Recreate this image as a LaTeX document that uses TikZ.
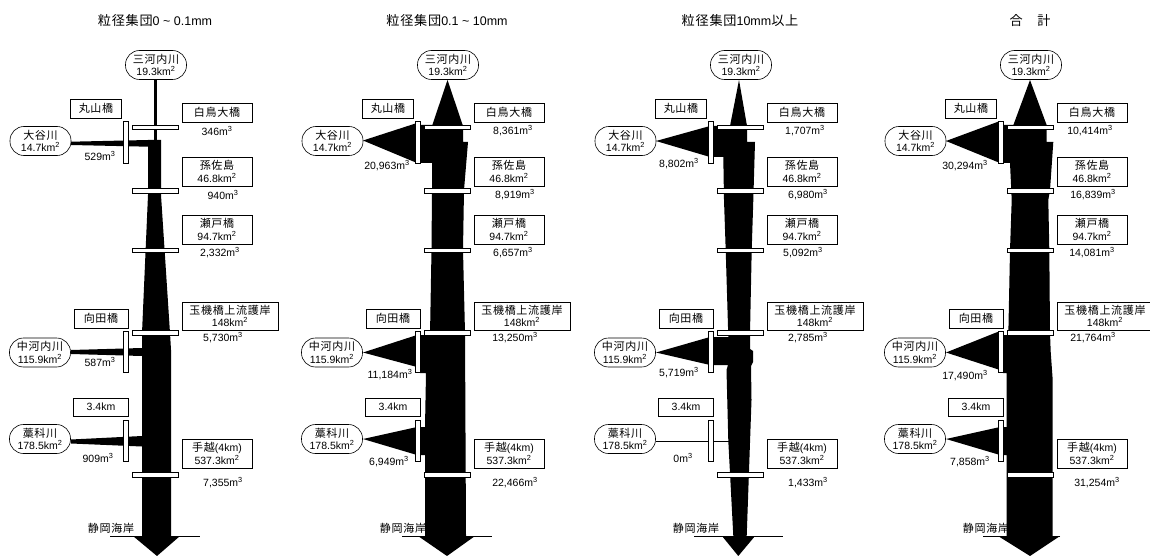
\documentclass[tikz,border=0pt]{standalone}
\usepackage{fontspec}
\setmainfont{Liberation Sans}
\newfontfamily\jp{Noto Sans CJK JP}[Scale=1.05, LetterSpace=6]
\newcommand\J[1]{{\jp #1}}
\newcommand\fs{\fontsize{10.5}{12.5}\selectfont}
\tikzset{
  riv/.style={draw, line width=0.6pt, rounded corners=14pt, minimum width=61pt, minimum height=29pt, inner sep=1pt, align=center, font=\fs},
  lbl/.style={draw, line width=0.6pt, minimum height=19pt, inner sep=1pt, align=center, font=\fs},
  num/.style={font=\fs, inner sep=0pt},
  ttl/.style={font=\fontsize{12.5}{14}\selectfont, inner sep=0pt},
  bridge/.style={draw, fill=white, line width=0.6pt, minimum width=46pt, minimum height=4.5pt, inner sep=0pt},
  vbar/.style={draw, fill=white, line width=0.6pt, minimum width=5pt, minimum height=41.5pt, inner sep=0pt},
  flow/.style={fill=black},
  coast/.style={draw, line width=0.7pt}
}
\newcommand\panelbars[1]{%
  \node[bridge] (bra#1) at (155,127.25) {};
  \node[bridge] (brb#1) at (155,191) {};
  \node[bridge] (brc#1) at (155,250.5) {};
  \node[bridge] (brd#1) at (155,333) {};
  \node[bridge] (bre#1) at (155,475) {};
  \node[vbar] (vba#1) at (125.5,142.5) {};
  \node[vbar] (vbb#1) at (125.5,352) {};
  \node[vbar] (vbc#1) at (125.5,441) {};
}
\newcommand\panellabels[1]{%
  \node[riv] (mik#1) at (156,65) {\J{三河内川}\\19.3km\textsuperscript{2}};
  \node[riv] (oya#1) at (40.5,141) {\J{大谷川}\\14.7km\textsuperscript{2}};
  \node[riv] (nak#1) at (40,352.5) {\J{中河内川}\\115.9km\textsuperscript{2}};
  \node[riv] (war#1) at (40,439) {\J{藁科川}\\178.5km\textsuperscript{2}};
  \node[lbl, minimum width=51pt] (mar#1) at (96,108.5) {\J{丸山橋}};
  \node[lbl, minimum width=54pt] (muk#1) at (101,318.5) {\J{向田橋}};
  \node[lbl, minimum width=55pt, minimum height=18pt] (km#1) at (101,407) {3.4km};
  \node[lbl, minimum width=70pt] (shi#1) at (217,112.5) {\J{白鳥大橋}};
  \node[lbl, minimum width=70pt, minimum height=29pt] (mag#1) at (217,171.5) {\J{孫佐島}\\46.8km\textsuperscript{2}};
  \node[lbl, minimum width=70pt, minimum height=29pt] (set#1) at (217,229.5) {\J{瀬戸橋}\\94.7km\textsuperscript{2}};
  \node[lbl, minimum width=96pt, minimum height=28pt] (tam#1) at (230,316) {\J{玉機橋上流護岸}\\148km\textsuperscript{2}};
  \node[lbl, minimum width=70pt, minimum height=29pt] (teg#1) at (217,453.5) {\J{手越}(4km)\\537.3km\textsuperscript{2}};
  \node[num] (shz#1) at (111,528) {\J{静岡海岸}};
}
\begin{document}
\begin{tikzpicture}[x=1pt,y=-1pt]
\useasboundingbox (0,0) rectangle (1150,556);
\fill[white] (0,0) rectangle (1150,556);

% ---------------- Panel 1 ----------------
\begin{scope}
  \node[ttl] (ttla) at (155,21) {\J{粒径集団}0 \textasciitilde{} 0.1mm};
  \draw[coast] (110,536) -- (200,536);
  \fill[flow] (154.3,79) rectangle (156.8,142);
  \fill[flow] (71,141.7) -- (148,140) -- (148,146.7) -- (71,145) -- cycle;
  \fill[flow] (148,140) -- (161,140) -- (161,195) -- (170,333) -- (171,350) -- (171,536)
              -- (142,536) -- (142,333) -- (148,195) -- cycle;
  \fill[flow] (71,350) -- (142,348) -- (142,356) -- (71,354) -- cycle;
  \fill[flow] (71,439.5) -- (142,436) -- (142,446.5) -- (71,443.5) -- cycle;
  \fill[flow] (133,536) -- (180,536) -- (157,556) -- cycle;
  \panelbars{1}
  \panellabels{1}
  \node[num] (na1) at (217,131) {346m\textsuperscript{3}};
  \node[num] (nb1) at (223,195) {940m\textsuperscript{3}};
  \node[num] (nc1) at (220,253) {2,332m\textsuperscript{3}};
  \node[num] (nd1) at (223,338) {5,730m\textsuperscript{3}};
  \node[num] (ne1) at (223,483) {7,355m\textsuperscript{3}};
  \node[num] (la1) at (100,156) {529m\textsuperscript{3}};
  \node[num] (lb1) at (100,362) {587m\textsuperscript{3}};
  \node[num] (lc1) at (98,458) {909m\textsuperscript{3}};
\end{scope}

% ---------------- Panel 2 ----------------
\begin{scope}[xshift=292pt]
  \node[ttl] (ttlb) at (155,21) {\J{粒径集団}0.1 \textasciitilde{} 10mm};
  \draw[coast] (110,536) -- (200,536);
  \fill[flow] (155.5,80) -- (171,126) -- (140,126) -- cycle;
  \fill[flow] (71,140.5) -- (125,123) -- (125,163) -- cycle;
  \fill[flow] (128,125) -- (171,125) -- (171,142) -- (176,142) -- (172,190) -- (171,250)
              -- (173,333) -- (174,536) -- (133,536) -- (133,455) -- (128,455) -- (128,427)
              -- (133,427) -- (134,373) -- (128,373) -- (128,335) -- (138,335) -- (139.5,250)
              -- (140,190) -- (140,163) -- (128,163) -- cycle;
  \fill[flow] (71,352.5) -- (125,335) -- (125,367) -- cycle;
  \fill[flow] (71,439) -- (125,427) -- (125,455) -- cycle;
  \fill[flow] (126,536) -- (183,536) -- (155,556) -- cycle;
  \panelbars{2}
  \panellabels{2}
  \node[num] (na2) at (221,131) {8,361m\textsuperscript{3}};
  \node[num] (nb2) at (223,195) {8,919m\textsuperscript{3}};
  \node[num] (nc2) at (221,253) {6,657m\textsuperscript{3}};
  \node[num] (nd2) at (223,338) {13,250m\textsuperscript{3}};
  \node[num] (ne2) at (223,483) {22,466m\textsuperscript{3}};
  \node[num] (la2) at (95,166) {20,963m\textsuperscript{3}};
  \node[num] (lb2) at (98,375) {11,184m\textsuperscript{3}};
  \node[num] (lc2) at (97,462) {6,949m\textsuperscript{3}};
\end{scope}

% ---------------- Panel 3 ----------------
\begin{scope}[xshift=585pt]
  \node[ttl] (ttlc) at (155,21) {\J{粒径集団}10mm\J{以上}};
  \draw[coast] (109,536) -- (198,536);
  \fill[flow] (154,80) -- (162,126) -- (145,126) -- cycle;
  \fill[flow] (71,141) -- (125,126) -- (125,157) -- cycle;
  \fill[flow] (127,126) -- (162,126) -- (162,142) -- (170,142) -- (168.3,200) -- (166.7,250)
              -- (165,333) -- (165,349) -- (168,351) -- (168,362) -- (166,366) -- (166.5,400)
              -- (161.7,536) -- (148.3,536) -- (143.3,441) -- (141.5,370) -- (143,365)
              -- (127,365) -- (127,337) -- (143.3,337) -- (140.7,250) -- (139,200)
              -- (138.3,157) -- (127,157) -- cycle;
  \fill[flow] (71,352.5) -- (125,337) -- (125,365) -- cycle;
  \draw[line width=0.8pt] (71,441) -- (143.5,441);
  \fill[flow] (137,536) -- (170,536) -- (153.3,556) -- cycle;
  \panelbars{3}
  \panellabels{3}
  \node[num] (na3) at (220,131) {1,707m\textsuperscript{3}};
  \node[num] (nb3) at (223,195) {6,980m\textsuperscript{3}};
  \node[num] (nc3) at (218,253) {5,092m\textsuperscript{3}};
  \node[num] (nd3) at (223,338) {2,785m\textsuperscript{3}};
  \node[num] (ne3) at (223,483) {1,433m\textsuperscript{3}};
  \node[num] (la3) at (94,164) {8,802m\textsuperscript{3}};
  \node[num] (lb3) at (94,373) {5,719m\textsuperscript{3}};
  \node[num] (lc3) at (98,458) {0m\textsuperscript{3}};
\end{scope}

% ---------------- Panel 4 ----------------
\begin{scope}[xshift=875pt]
  \node[ttl] (ttld) at (155,21) {\J{合　計}};
  \draw[coast] (108,536) -- (185,536);
  \fill[flow] (155,80) -- (172,126) -- (138,126) -- cycle;
  \fill[flow] (71,141) -- (125,121) -- (125,163) -- cycle;
  \fill[flow] (128,125) -- (171.7,125) -- (171.7,142) -- (178.3,142) -- (175,190) -- (173.3,200)
              -- (174.3,250) -- (175,333) -- (175.7,352) -- (177.7,380) -- (177.7,536)
              -- (131.7,536) -- (131.7,455) -- (128,455) -- (128,427) -- (131.7,427)
              -- (131.7,373) -- (128,373) -- (128,335) -- (133.3,335) -- (135,250)
              -- (136.7,200) -- (135,163) -- (128,163) -- cycle;
  \fill[flow] (71,352.5) -- (125,331) -- (125,370) -- cycle;
  \fill[flow] (71,439) -- (125,427) -- (125,455) -- cycle;
  \fill[flow] (123,536) -- (185,536) -- (155,556) -- cycle;
  \panelbars{4}
  \panellabels{4}
  \node[num] (na4) at (215,131) {10,414m\textsuperscript{3}};
  \node[num] (nb4) at (218,195) {16,839m\textsuperscript{3}};
  \node[num] (nc4) at (217,253) {14,081m\textsuperscript{3}};
  \node[num] (nd4) at (218,338) {21,764m\textsuperscript{3}};
  \node[num] (ne4) at (222,483) {31,254m\textsuperscript{3}};
  \node[num] (la4) at (90,166) {30,294m\textsuperscript{3}};
  \node[num] (lb4) at (90,376) {17,490m\textsuperscript{3}};
  \node[num] (lc4) at (95,462) {7,858m\textsuperscript{3}};
\end{scope}
\end{tikzpicture}
\end{document}
